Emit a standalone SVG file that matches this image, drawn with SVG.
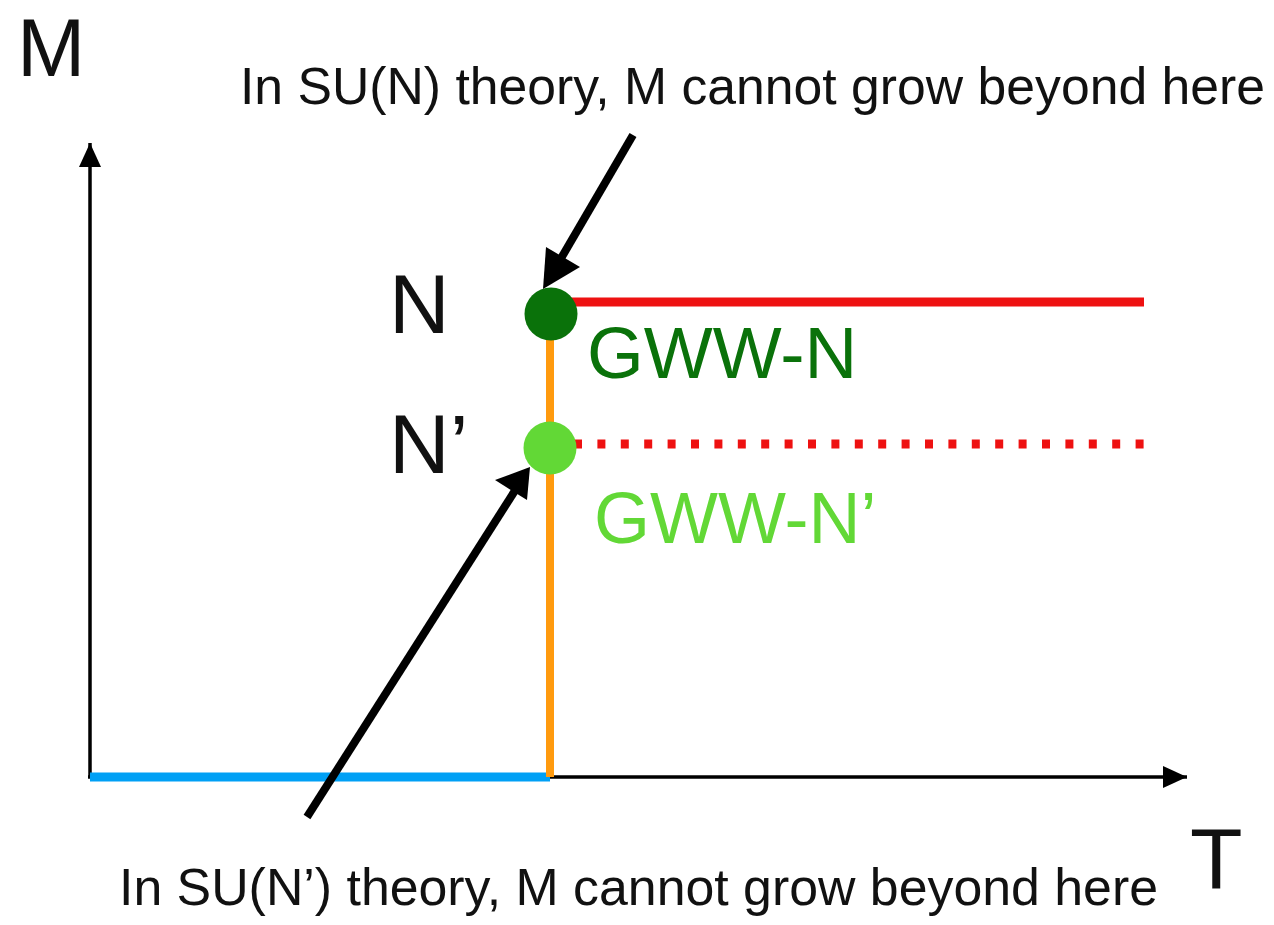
<svg xmlns="http://www.w3.org/2000/svg" width="1274" height="925" viewBox="0 0 1274 925">
  <style>
    .lbl { font-family: "Liberation Sans", Arial, Helvetica, sans-serif; fill: #111; }
    .axis { stroke: #000; stroke-width: 3.5; fill: none; }
    .ptr { stroke: #000; stroke-width: 8; fill: none; }
  </style>
  <defs>
    <marker id="axhead" viewBox="0 0 24 22" refX="24" refY="11" markerWidth="24" markerHeight="22" markerUnits="userSpaceOnUse" orient="auto">
      <path d="M0,0 L24,11 L0,22 z" fill="#000"/>
    </marker>
  </defs>
  <rect width="1274" height="925" fill="#fff"/>

  <g id="axes">
    <line class="axis" x1="90" y1="777" x2="90" y2="143" marker-end="url(#axhead)"/>
    <line class="axis" x1="88" y1="777" x2="1187" y2="777" marker-end="url(#axhead)"/>
    <text class="lbl" x="17" y="76" font-size="82">M</text>
    <text class="lbl" x="1190" y="888" font-size="86">T</text>
  </g>

  <g id="phase-lines">
    <line x1="90" y1="777" x2="550" y2="777" stroke="#00a0f5" stroke-width="9"/>
    <line x1="550" y1="314" x2="550" y2="777" stroke="#ff9a0e" stroke-width="8"/>
    <line x1="560" y1="302" x2="1144" y2="302" stroke="#ee1111" stroke-width="9"/>
    <line x1="574" y1="444" x2="1148" y2="444" stroke="#ee1111" stroke-width="9" stroke-dasharray="8 15.4"/>
  </g>

  <g id="node-N">
    <circle cx="551" cy="314" r="26.5" fill="#0a720a"/>
    <text class="lbl" x="389" y="333" font-size="84">N</text>
    <text x="587" y="378" font-size="73" font-family="'Liberation Sans', Arial, sans-serif" fill="#0a720a">GWW-N</text>
  </g>

  <g id="node-Nprime">
    <circle cx="550" cy="448" r="26.5" fill="#62d836"/>
    <text class="lbl" x="389" y="473" font-size="84">N’</text>
    <text x="594" y="543" font-size="72" font-family="'Liberation Sans', Arial, sans-serif" fill="#62d836">GWW-N’</text>
  </g>

  <g id="annotation-top">
    <text class="lbl" x="240" y="104" font-size="52" textLength="1025" lengthAdjust="spacingAndGlyphs">In SU(N) theory, M cannot grow beyond here</text>
  </g>
  <g id="annotation-bottom">
    <text class="lbl" x="119" y="905" font-size="52" textLength="1039" lengthAdjust="spacingAndGlyphs">In SU(N’) theory, M cannot grow beyond here</text>
  </g>

  <g id="connectors">
    <line class="ptr" x1="633" y1="135" x2="556" y2="267"/>
    <polygon points="543,289 546,247 580,267" fill="#000"/>
    <line class="ptr" x1="307" y1="817" x2="516" y2="489"/>
    <polygon points="530,467 527,500 495,480" fill="#000"/>
  </g>
</svg>
